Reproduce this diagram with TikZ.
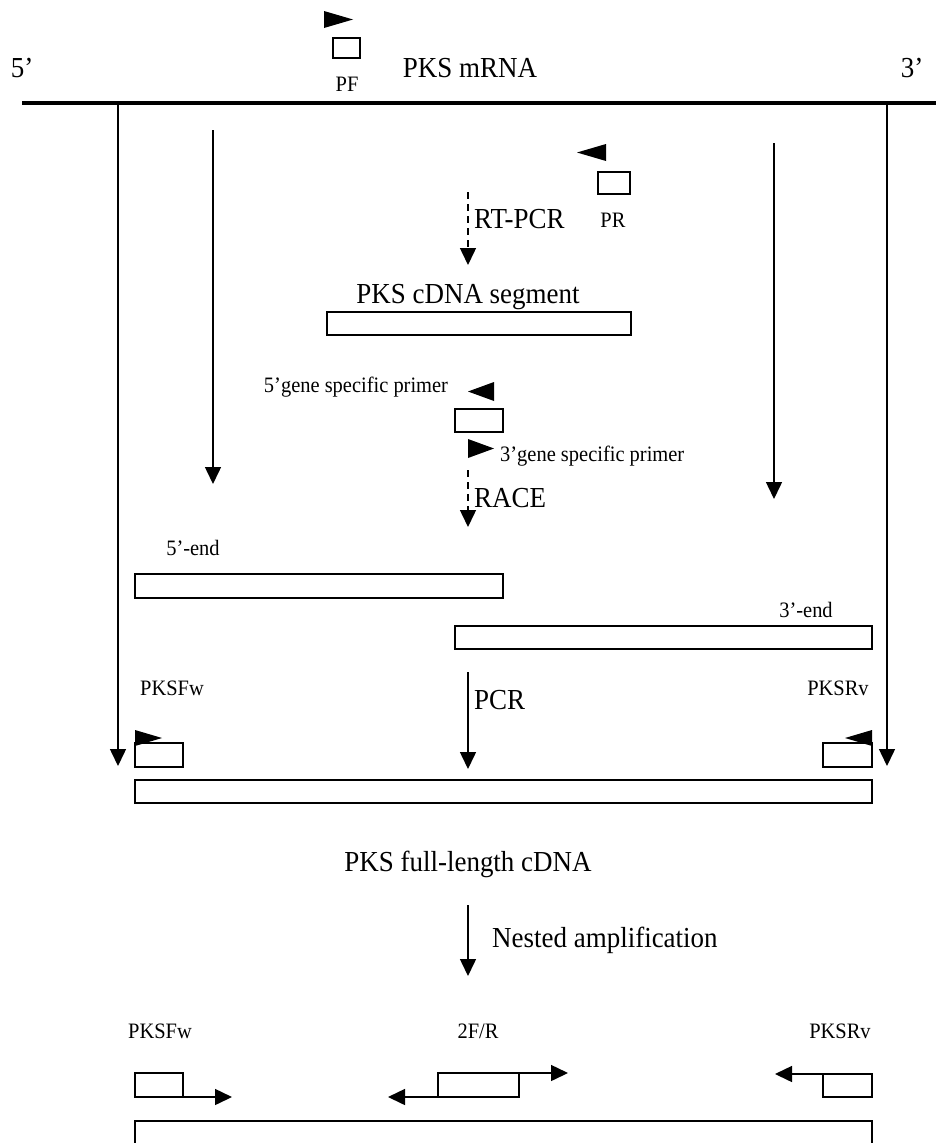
\documentclass[tikz,border=0pt]{standalone}
\usepackage{fontspec}
\setmainfont{Liberation Serif}[FakeStretch=0.93]
\usetikzlibrary{arrows.meta}
\begin{document}
\begin{tikzpicture}[x=1pt,y=-1pt,
  box/.style={draw, line width=1.9pt, inner sep=0pt, outer sep=0pt, anchor=north west},
  big/.style={font=\fontsize{29}{31}\selectfont, inner sep=0pt},
  small/.style={font=\fontsize{22}{24}\selectfont, inner sep=0pt},
  arr/.style={line width=1.5pt, -{Triangle[length=17pt,width=16pt]}},
  darr/.style={arr, dash pattern=on 7pt off 5pt},
  primer/.style={fill=black}
]
\useasboundingbox (0,0) rectangle (936,1143);
\clip (0,0) rectangle (936,1143);

% --- mRNA ---
\node[big] (five) at (22,68) {5’};
\node[big] (three) at (912,68) {3’};
\node[big] (mrna) at (470,68) {PKS mRNA};
\coordinate (mL) at (22,103);
\coordinate (mR) at (936,103);
\draw[line width=3.2pt] (mL) -- (mR);

% PF primer
\fill[primer] (324,11) -- (353,19.5) -- (324,28) -- cycle;
\node[box, minimum width=27pt, minimum height=20pt] (pfbox) at (333,38) {};
\node[small] (pf) at (347,84) {PF};

% PR primer
\fill[primer] (606,144) -- (577,152.5) -- (606,161) -- cycle;
\node[box, minimum width=32pt, minimum height=22pt] (prbox) at (598,172) {};
\node[small] (pr) at (613,220) {PR};

% long arrows
\coordinate (l1s) at (118,103);
\coordinate (l1e) at (118,766);
\coordinate (r1s) at (887,103);
\coordinate (r1e) at (887,766);
\draw[arr] (l1s) -- (l1e);
\draw[arr] (r1s) -- (r1e);

% inner arrows
\coordinate (l2s) at (213,130);
\coordinate (l2e) at (213,484);
\coordinate (r2s) at (774,143);
\coordinate (r2e) at (774,499);
\draw[arr] (l2s) -- (l2e);
\draw[arr] (r2s) -- (r2e);

% RT-PCR
\coordinate (rts) at (468,192);
\coordinate (rte) at (468,265);
\draw[darr] (rts) -- (rte);
\node[big, anchor=west] (rtpcr) at (474,219) {RT-PCR};

% cDNA segment
\node[big] (seglabel) at (468,297) {PKS cDNA segment};
\node[box, minimum width=304pt, minimum height=23pt] (seg) at (327,312) {};

% gene specific primers
\node[small] (gsp5) at (356,387) {5’gene specific primer};
\fill[primer] (494,382) -- (468,391.5) -- (494,401) -- cycle;
\node[box, minimum width=48pt, minimum height=23pt] (gspbox) at (455,409) {};
\fill[primer] (468,439) -- (494,448.5) -- (468,458) -- cycle;
\node[small, anchor=west] (gsp3) at (500,456) {3’gene specific primer};

% RACE
\coordinate (ras) at (468,470);
\coordinate (rae) at (468,527);
\draw[darr] (ras) -- (rae);
\node[big, anchor=west] (race) at (474,498) {RACE};

% 5' end / 3' end
\node[small] (end5) at (193,548) {5’-end};
\node[box, minimum width=368pt, minimum height=24pt] (box5) at (135,574) {};
\node[small] (end3) at (806,610) {3’-end};
\node[box, minimum width=417pt, minimum height=23pt] (box3) at (455,626) {};

% PCR
\coordinate (pcs) at (468,672);
\coordinate (pce) at (468,769);
\draw[arr] (pcs) -- (pce);
\node[big, anchor=west] (pcr) at (474,700) {PCR};

% PKSFw / PKSRv primers
\node[small] (fw1) at (172,688) {PKSFw};
\fill[primer] (135,730) -- (162,738) -- (135,746) -- cycle;
\node[box, minimum width=48pt, minimum height=24pt] (fwbox1) at (135,743) {};
\node[small] (rv1) at (838,688) {PKSRv};
\fill[primer] (872,730) -- (845,738) -- (872,746) -- cycle;
\node[box, minimum width=49pt, minimum height=24pt] (rvbox1) at (823,743) {};

% full-length box
\node[box, minimum width=737pt, minimum height=23pt] (full) at (135,780) {};
\node[big] (fulllabel) at (468,864) {PKS full-length cDNA};

% nested amplification
\coordinate (nas) at (468,905);
\coordinate (nae) at (468,976);
\draw[arr] (nas) -- (nae);
\node[big, anchor=west] (nested) at (492,940) {Nested amplification};

% bottom primers
\node[small] (fw2) at (160,1031) {PKSFw};
\node[small] (f2r) at (478,1031) {2F/R};
\node[small] (rv2) at (840,1031) {PKSRv};

\node[box, minimum width=48pt, minimum height=24pt] (fwbox2) at (135,1073) {};
\coordinate (fwa) at (232,1097);
\draw[arr] (fwbox2.south east) -- (fwa);

\node[box, minimum width=81pt, minimum height=24pt] (f2rbox) at (438,1073) {};
\coordinate (f2ra) at (568,1073);
\coordinate (f2rb) at (388,1097);
\draw[arr] (f2rbox.north east) -- (f2ra);
\draw[arr] (f2rbox.south west) -- (f2rb);

\node[box, minimum width=49pt, minimum height=23pt] (rvbox2) at (823,1074) {};
\coordinate (rva) at (775,1074);
\draw[arr] (rvbox2.north west) -- (rva);

% final box (cut by the page edge)
\node[box, minimum width=737pt, minimum height=40pt] (final) at (135,1121) {};
\end{tikzpicture}
\end{document}
